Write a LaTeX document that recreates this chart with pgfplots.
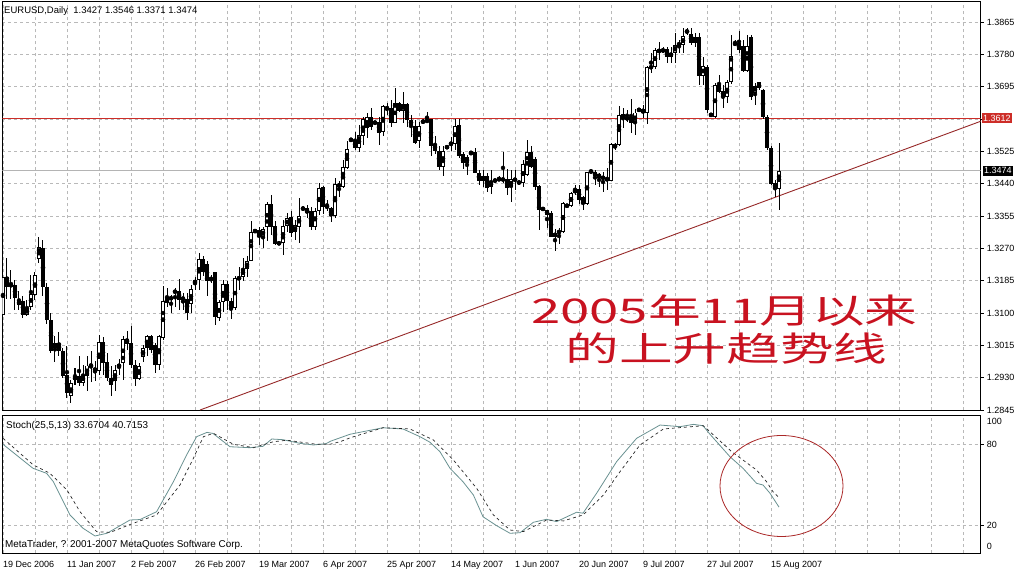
\documentclass[border=0pt]{standalone}
\usepackage{pgfplots}
\pgfplotsset{compat=1.18}
\usepackage{pgfplotstable}
\usepackage{graphicx}
\usepackage{fontspec}
\setmainfont{Liberation Sans}
\newfontfamily\cjk{Noto Sans CJK SC}
\definecolor{gridc}{RGB}{185,185,185}
\definecolor{hred}{RGB}{205,45,40}
\definecolor{tred}{RGB}{150,40,40}
\definecolor{cnred}{RGB}{200,18,32}
\definecolor{stmain}{RGB}{105,145,145}
\definecolor{stsig}{RGB}{40,40,40}
\definecolor{ellred}{RGB}{170,40,40}
\definecolor{curgray}{RGB}{180,180,180}

\pgfplotstableread{
k o h l c
0 1.3096 1.3214 1.3081 1.3195
1 1.3195 1.3244 1.3137 1.3168
2 1.3174 1.3214 1.3138 1.3172
3 1.3174 1.3187 1.3109 1.3139
4 1.3131 1.3157 1.3109 1.3122
5 1.3132 1.3144 1.3087 1.3096
6 1.3096 1.3135 1.3091 1.3113
7 1.3115 1.3201 1.3109 1.3151
8 1.3148 1.3209 1.3135 1.3201
9 1.3242 1.3299 1.3231 1.3273
10 1.3272 1.3292 1.3144 1.3168
11 1.3168 1.3179 1.3072 1.3081
12 1.3082 1.3100 1.2995 1.2999
13 1.3008 1.3039 1.2970 1.3021
14 1.3021 1.3049 1.2986 1.2999
15 1.2999 1.3008 1.2929 1.2934
16 1.2938 1.3012 1.2877 1.2890
17 1.2881 1.2925 1.2864 1.2916
18 1.2923 1.2956 1.2912 1.2935
19 1.2934 1.2988 1.2907 1.2916
20 1.2916 1.2964 1.2907 1.2938
21 1.2934 1.2986 1.2894 1.2962
22 1.2960 1.2999 1.2920 1.2964
23 1.2956 1.2973 1.2920 1.2947
24 1.2947 1.3043 1.2938 1.3023
25 1.3024 1.3037 1.2938 1.2969
26 1.2970 1.2995 1.2920 1.2929
27 1.2929 1.2960 1.2881 1.2912
28 1.2920 1.2964 1.2894 1.2951
29 1.2956 1.2979 1.2938 1.2967
30 1.2969 1.3039 1.2925 1.3032
31 1.3032 1.3052 1.3004 1.3019
32 1.3021 1.3065 1.2956 1.2964
33 1.2964 1.2977 1.2907 1.2927
34 1.2927 1.2969 1.2925 1.2960
35 1.2984 1.3017 1.2970 1.3008
36 1.3008 1.3043 1.2986 1.3040
37 1.3040 1.3043 1.2995 1.3004
38 1.3017 1.3021 1.2943 1.2964
39 1.2964 1.3043 1.2951 1.3039
40 1.3034 1.3170 1.3030 1.3131
41 1.3126 1.3166 1.3117 1.3139
42 1.3140 1.3148 1.3101 1.3138
43 1.3153 1.3166 1.3117 1.3159
44 1.3157 1.3189 1.3109 1.3135
45 1.3139 1.3152 1.3109 1.3137
46 1.3137 1.3152 1.3081 1.3100
47 1.3124 1.3174 1.3100 1.3163
48 1.3176 1.3196 1.3161 1.3187
49 1.3187 1.3258 1.3161 1.3242
50 1.3242 1.3249 1.3196 1.3207
51 1.3229 1.3236 1.3144 1.3183
52 1.3186 1.3201 1.3179 1.3192
53 1.3209 1.3209 1.3069 1.3090
54 1.3087 1.3135 1.3078 1.3128
55 1.3128 1.3187 1.3104 1.3177
56 1.3177 1.3183 1.3109 1.3131
57 1.3131 1.3139 1.3084 1.3111
58 1.3113 1.3196 1.3109 1.3192
59 1.3187 1.3222 1.3161 1.3196
60 1.3196 1.3244 1.3183 1.3216
61 1.3216 1.3249 1.3195 1.3237
62 1.3238 1.3341 1.3236 1.3314
63 1.3317 1.3321 1.3310 1.3314
64 1.3317 1.3327 1.3279 1.3301
65 1.3300 1.3327 1.3271 1.3321
66 1.3327 1.3393 1.3288 1.3387
67 1.3387 1.3411 1.3306 1.3327
68 1.3329 1.3341 1.3279 1.3282
69 1.3285 1.3287 1.3279 1.3282
70 1.3284 1.3345 1.3253 1.3329
71 1.3329 1.3363 1.3314 1.3350
72 1.3352 1.3367 1.3301 1.3310
73 1.3312 1.3345 1.3292 1.3332
74 1.3327 1.3402 1.3285 1.3356
75 1.3378 1.3380 1.3369 1.3371
76 1.3376 1.3384 1.3349 1.3364
77 1.3369 1.3380 1.3317 1.3327
78 1.3327 1.3376 1.3317 1.3369
79 1.3367 1.3441 1.3358 1.3428
80 1.3432 1.3434 1.3361 1.3378
81 1.3382 1.3397 1.3369 1.3377
82 1.3376 1.3380 1.3338 1.3354
83 1.3354 1.3455 1.3349 1.3440
84 1.3440 1.3446 1.3406 1.3431
85 1.3431 1.3503 1.3428 1.3483
86 1.3481 1.3553 1.3478 1.3531
87 1.3557 1.3560 1.3551 1.3553
88 1.3555 1.3577 1.3529 1.3533
89 1.3533 1.3594 1.3524 1.3568
90 1.3565 1.3616 1.3542 1.3609
91 1.3586 1.3625 1.3560 1.3616
92 1.3614 1.3638 1.3581 1.3588
93 1.3602 1.3603 1.3597 1.3599
94 1.3603 1.3616 1.3542 1.3574
95 1.3577 1.3647 1.3564 1.3643
96 1.3641 1.3652 1.3621 1.3636
97 1.3638 1.3660 1.3590 1.3600
98 1.3600 1.3691 1.3599 1.3652
99 1.3652 1.3656 1.3629 1.3632
100 1.3632 1.3682 1.3599 1.3650
101 1.3650 1.3652 1.3590 1.3606
102 1.3608 1.3621 1.3562 1.3593
103 1.3592 1.3608 1.3545 1.3546
104 1.3551 1.3603 1.3533 1.3592
105 1.3606 1.3609 1.3597 1.3600
106 1.3608 1.3628 1.3599 1.3602
107 1.3609 1.3609 1.3513 1.3539
108 1.3545 1.3566 1.3518 1.3527
109 1.3527 1.3538 1.3476 1.3483
110 1.3485 1.3538 1.3461 1.3527
111 1.3533 1.3541 1.3531 1.3539
112 1.3548 1.3564 1.3527 1.3541
113 1.3545 1.3609 1.3529 1.3592
114 1.3594 1.3609 1.3507 1.3513
115 1.3518 1.3524 1.3478 1.3494
116 1.3494 1.3516 1.3463 1.3510
117 1.3522 1.3524 1.3516 1.3520
118 1.3522 1.3533 1.3468 1.3469
119 1.3469 1.3476 1.3437 1.3448
120 1.3448 1.3476 1.3432 1.3461
121 1.3461 1.3468 1.3417 1.3428
122 1.3431 1.3475 1.3413 1.3446
123 1.3448 1.3452 1.3445 1.3448
124 1.3453 1.3459 1.3446 1.3450
125 1.3450 1.3522 1.3441 1.3452
126 1.3452 1.3478 1.3411 1.3428
127 1.3431 1.3476 1.3392 1.3452
128 1.3450 1.3476 1.3424 1.3451
129 1.3443 1.3446 1.3440 1.3443
130 1.3441 1.3501 1.3432 1.3492
131 1.3463 1.3555 1.3459 1.3524
132 1.3524 1.3539 1.3481 1.3485
133 1.3504 1.3511 1.3424 1.3432
134 1.3434 1.3437 1.3319 1.3371
135 1.3376 1.3380 1.3367 1.3371
136 1.3371 1.3371 1.3323 1.3358
137 1.3363 1.3367 1.3300 1.3301
138 1.3301 1.3321 1.3262 1.3310
139 1.3310 1.3323 1.3282 1.3316
140 1.3314 1.3391 1.3310 1.3389
141 1.3382 1.3384 1.3380 1.3382
142 1.3382 1.3419 1.3378 1.3415
143 1.3415 1.3437 1.3411 1.3426
144 1.3426 1.3437 1.3387 1.3398
145 1.3405 1.3408 1.3371 1.3387
146 1.3387 1.3472 1.3384 1.3472
147 1.3472 1.3476 1.3468 1.3472
148 1.3472 1.3476 1.3437 1.3459
149 1.3466 1.3468 1.3432 1.3455
150 1.3459 1.3472 1.3417 1.3452
151 1.3455 1.3481 1.3424 1.3448
152 1.3448 1.3546 1.3446 1.3545
153 1.3533 1.3546 1.3529 1.3545
154 1.3542 1.3643 1.3539 1.3621
155 1.3623 1.3638 1.3586 1.3609
156 1.3608 1.3634 1.3603 1.3615
157 1.3616 1.3662 1.3574 1.3599
158 1.3599 1.3636 1.3567 1.3627
159 1.3634 1.3636 1.3632 1.3634
160 1.3636 1.3647 1.3612 1.3627
161 1.3627 1.3749 1.3597 1.3748
162 1.3743 1.3784 1.3732 1.3749
163 1.3746 1.3796 1.3741 1.3791
164 1.3791 1.3813 1.3765 1.3787
165 1.3793 1.3798 1.3783 1.3787
166 1.3793 1.3800 1.3758 1.3774
167 1.3774 1.3800 1.3757 1.3784
168 1.3783 1.3835 1.3757 1.3804
169 1.3809 1.3818 1.3784 1.3804
170 1.3804 1.3848 1.3783 1.3828
171 1.3844 1.3848 1.3832 1.3836
172 1.3833 1.3848 1.3805 1.3809
173 1.3809 1.3835 1.3798 1.3826
174 1.3826 1.3835 1.3699 1.3723
175 1.3723 1.3774 1.3699 1.3749
176 1.3746 1.3752 1.3625 1.3634
177 1.3621 1.3623 1.3618 1.3621
178 1.3616 1.3704 1.3612 1.3699
179 1.3699 1.3726 1.3678 1.3682
180 1.3684 1.3699 1.3638 1.3669
181 1.3667 1.3713 1.3651 1.3706
182 1.3706 1.3831 1.3702 1.3776
183 1.3804 1.3818 1.3802 1.3811
184 1.3809 1.3842 1.3784 1.3791
185 1.3802 1.3818 1.3734 1.3737
186 1.3737 1.3831 1.3734 1.3802
187 1.3826 1.3831 1.3660 1.3668
188 1.3679 1.3704 1.3647 1.3697
189 1.3706 1.3708 1.3686 1.3691
190 1.3686 1.3688 1.3609 1.3616
191 1.3616 1.3621 1.3529 1.3533
192 1.3533 1.3538 1.3437 1.3440
193 1.3443 1.3450 1.3406 1.3426
194 1.3427 1.3546 1.3371 1.3474
}\candles

\newcommand\lblfont{\fontsize{9}{10}\selectfont}

\begin{document}
\begin{tikzpicture}
\path[use as bounding box] (0pt,0pt) rectangle (1018pt,570pt);

% ---------------- main price panel ----------------
\begin{axis}[
  at={(2.5pt,159.6pt)}, anchor=south west,
  scale only axis, width=978.2pt, height=408.9pt,
  xmin=-0.125, xmax=244.425, ymin=1.2844, ymax=1.39188,
  axis line style={black, line width=0.9pt},
  xtick={0,8,...,240}, xticklabels={}, xtick style={draw=none},
  ytick={1.2845,1.2930,1.3015,1.3100,1.3185,1.3270,1.3355,1.3440,1.3525,1.3610,1.3695,1.3780,1.3865},
  yticklabels={1.2845,1.2930,1.3015,1.3100,1.3185,1.3270,1.3355,1.3440,1.3525,,1.3695,1.3780,1.3865},
  ytick pos=right, yticklabel pos=right,
  tick align=outside, major tick length=3pt,
  ytick style={black, line width=0.6pt},
  yticklabel style={font=\lblfont, anchor=west, inner sep=0pt, xshift=3pt},
  grid=major, major grid style={gridc, dash pattern=on 3pt off 3pt, line width=0.6pt},
]
% current price line, resistance line, trend line
\addplot[curgray, line width=0.8pt] coordinates {(-1,1.3474) (246,1.3474)};
\addplot[hred, line width=1pt] coordinates {(-1,1.3612) (246,1.3612)};
\addplot[tred, line width=0.9pt] coordinates {(49.25,1.2845) (244.425,1.3604)};
% wicks
\addplot[only marks, mark=none, error bars/.cd, y dir=both, y explicit, error mark=none,
  error bar style={black, line width=1pt}]
  table[x=k, y expr={(\thisrow{h}+\thisrow{l})/2},
        y error plus expr={(\thisrow{h}-\thisrow{l})/2},
        y error minus expr={(\thisrow{h}-\thisrow{l})/2}] {\candles};
% bodies (black outline / fill)
\addplot[only marks, mark=none, error bars/.cd, y dir=both, y explicit, error mark=none,
  error bar style={black, line width=3.2pt}]
  table[x=k, y expr={(\thisrow{o}+\thisrow{c})/2},
        y error plus expr={max(abs(\thisrow{c}-\thisrow{o})/2,0.00013)},
        y error minus expr={max(abs(\thisrow{c}-\thisrow{o})/2,0.00013)}] {\candles};
% hollow interior of rising candles
\addplot[only marks, mark=none, error bars/.cd, y dir=both, y explicit, error mark=none,
  error bar style={white, line width=1.2pt}]
  table[x=k, y expr={(\thisrow{o}+\thisrow{c})/2},
        y error plus expr={max((\thisrow{c}-\thisrow{o})/2-0.00026,0)},
        y error minus expr={max((\thisrow{c}-\thisrow{o})/2-0.00026,0)}] {\candles};
\end{axis}

% ---------------- stochastic panel ----------------
\begin{axis}[
  at={(2.5pt,17pt)}, anchor=south west,
  scale only axis, width=978.2pt, height=138pt,
  xmin=-0.125, xmax=244.425, ymin=-0.15, ymax=101.6,
  axis line style={black, line width=0.9pt},
  xtick={0,8,...,240},
  xticklabels={19 Dec 2006,,11 Jan 2007,,2 Feb 2007,,26 Feb 2007,,19 Mar 2007,,6 Apr 2007,,25 Apr 2007,,14 May 2007,,1 Jun 2007,,20 Jun 2007,,9 Jul 2007,,27 Jul 2007,,15 Aug 2007,,,,,,},
  xtick style={draw=none},
  xticklabel style={font=\lblfont, anchor=base west, inner sep=0pt, yshift=-12pt},
  ytick={20,80}, yticklabels={20,80},
  extra y ticks={96.8,4.5}, extra y tick labels={100,0},
  extra y tick style={grid=none, ytick style={draw=none}},
  ytick pos=right, yticklabel pos=right,
  tick align=outside, major tick length=3pt,
  ytick style={black, line width=0.6pt},
  yticklabel style={font=\lblfont, anchor=west, inner sep=0pt, xshift=3pt},
  grid=major, major grid style={gridc, dash pattern=on 3pt off 3pt, line width=0.6pt},
]
\addplot[stmain, line width=0.8pt] coordinates {
(0,80) (7.5,62.3) (10.9,58.6) (12.6,52.4) (16.75,27.9) (20,18.1) (23,12.4) (26,14.4)
(31.75,24.2) (34.25,24.5) (38.4,30.3) (42.6,52.4) (45.9,72.1) (48.4,85.6) (51,88.8)
(52.5,88) (56.75,78.2) (61.75,77.5) (65,78.5) (67.2,83.9) (70,83.4) (74.25,80.7)
(77.6,79.5) (80.75,80.5) (82,82.4) (86.75,87.4) (90,89.3) (95,92.2) (100,91.3)
(104.25,85.6) (106.75,81.5) (109.25,74.5) (111.75,62.3) (115,52.4) (117.6,42.6)
(120,26.6) (123.4,20) (126.75,14.4) (129.25,14.8) (132.6,22.5) (135.9,24.7) (138.4,23)
(143.4,29.9) (145,29.2) (148.4,43.9) (153.4,67.2) (158.4,84.4) (164.25,94.2) (169.25,93)
(172.6,94.7) (175,93.7) (176.75,87.4) (181.75,70.8) (185,62.3) (188.4,51.2) (190,50)
(191.75,43.9) (194,33.7)};
\addplot[stsig, line width=0.7pt, dash pattern=on 3pt off 3pt] coordinates {
(0,84.4) (7.6,64.7) (11.75,58.6) (16,46.3) (19.25,30.3) (23.4,15.6) (26.75,15)
(32.6,21.8) (38.4,27.9) (44.25,50) (47.6,69.7) (50.1,85.6) (52.6,88.1) (57.6,80)
(62.6,77.5) (67.6,81.9) (71,83) (78.4,80) (81.75,80) (84.25,81.9) (87,85) (95,92.2)
(101.75,91.3) (107.6,83.2) (112.6,68.4) (118.4,47.6) (122.6,27.9) (126.75,16.8)
(130.1,15.6) (135.9,24.2) (140.1,23.5) (145,27.9) (150.1,42.6) (154.25,59.8)
(159.25,79.5) (165.1,91.3) (175.1,93.7) (182.2,74.5) (185,68.4) (188.4,61)
(190.9,52.4) (192.5,45) (194,40.7)};
\end{axis}

% ---------------- texts and annotations ----------------
\node[anchor=base west, inner sep=0pt, font=\fontsize{9.5}{11}\selectfont] at (4pt,556.7pt)
  {EURUSD,Daily\ \ 1.3427 1.3546 1.3371 1.3474};
\node[anchor=base west, inner sep=0pt, font=\fontsize{9.9}{11}\selectfont] at (6pt,141pt)
  {Stoch(25,5,13) 33.6704 40.7153};
\node[anchor=base west, inner sep=0pt, font=\fontsize{9.9}{11}\selectfont] at (5pt,22.3pt)
  {MetaTrader, ? 2001-2007 MetaQuotes Software Corp.};
% price boxes
\node[anchor=west, fill=hred, text=white, inner xsep=1.5pt, inner ysep=1pt, font=\lblfont,
  minimum height=10pt] at (981.5pt,451.7pt) {1.3612};
\node[anchor=west, fill=black, text=white, inner xsep=1.5pt, inner ysep=1pt, font=\lblfont,
  minimum height=10pt] at (982.5pt,399.2pt) {1.3474};
% chinese annotation
\node[text=cnred, inner sep=0pt] at (724.3pt,259.5pt)
  {\scalebox{1.55}[1]{\cjk\fontsize{34pt}{40pt}\selectfont 2005年11月以来}};
\node[text=cnred, inner sep=0pt] at (726.5pt,221pt)
  {\scalebox{1.58}[1]{\cjk\fontsize{34pt}{40pt}\selectfont 的上升趋势线}};
% ellipse around the stochastic
\draw[ellred, line width=0.8pt] (781.5pt,84pt) ellipse [x radius=61.5pt, y radius=50.5pt];
\end{tikzpicture}
\end{document}
